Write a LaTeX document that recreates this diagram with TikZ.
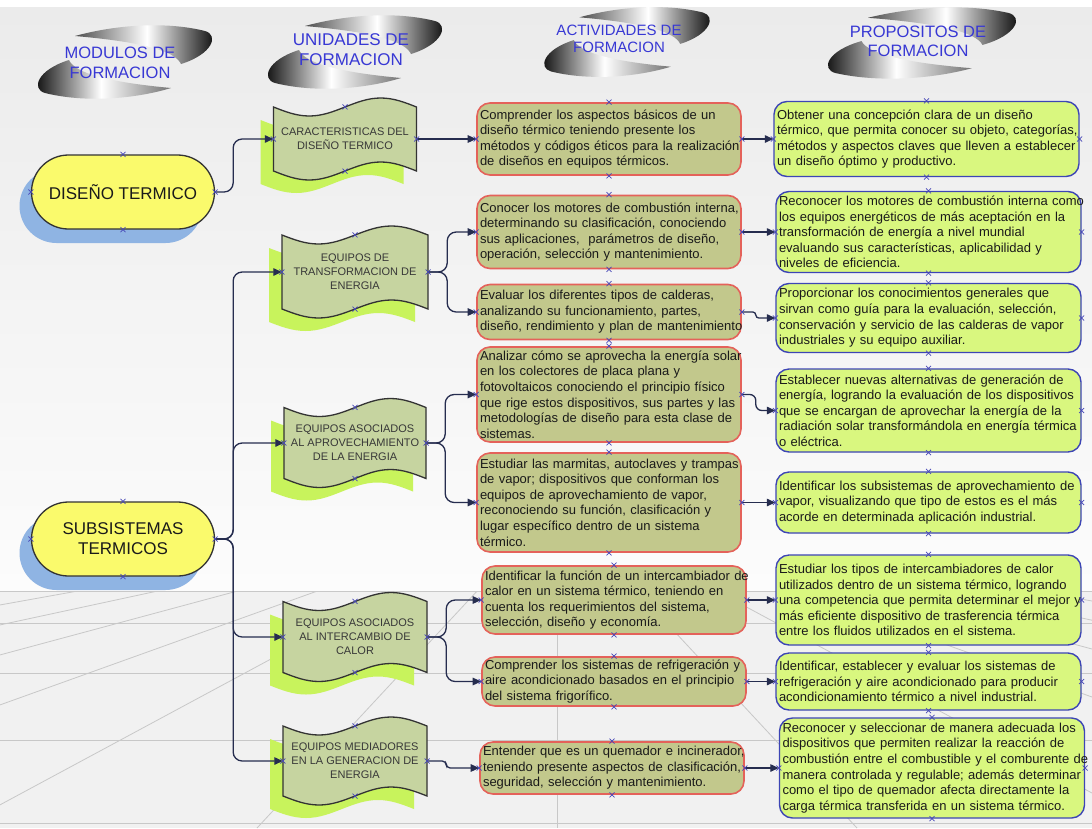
\documentclass[tikz,border=0pt]{standalone}
\usepackage{fontspec}
\setmainfont{Liberation Sans}
\usetikzlibrary{arrows.meta,shadows}

\definecolor{hdrblue}{HTML}{3838D4}
\definecolor{wallTop}{HTML}{EBEBEB}
\definecolor{wallBot}{HTML}{FCFCFC}
\definecolor{floorc}{HTML}{F1F1F1}
\definecolor{floorline}{HTML}{C8C8C8}
\definecolor{myellow}{HTML}{FAFA6C}
\definecolor{mshadowc}{HTML}{8FB4E3}
\definecolor{darkline}{HTML}{333333}
\definecolor{ufillc}{HTML}{C6D4A0}
\definecolor{ushadowc}{HTML}{C8F35C}
\definecolor{afillc}{HTML}{C2C88C}
\definecolor{aline}{HTML}{E4625A}
\definecolor{pfillc}{HTML}{D9F77F}
\definecolor{pline}{HTML}{3D45B5}
\definecolor{connc}{HTML}{262D4F}
\definecolor{xmkc}{HTML}{4848B8}
\definecolor{textdark}{HTML}{1A1A1A}
\definecolor{utextc}{HTML}{383838}

% wavy "tape" unit: name, centre x, centre y, half width, half height, label
\newcommand\unitbox[6]{%
  \begin{scope}[shift={(#2-13,#3+13)}]
    \fill[ushadowc] (-#4,-#5) sin ({-#4/2},{-#5+9}) cos (0,-#5) sin ({#4/2},{-#5-9}) cos (#4,-#5)
      -- (#4,#5) sin ({#4/2},{#5-9}) cos (0,#5) sin ({-#4/2},{#5+9}) cos (-#4,#5) -- cycle;
  \end{scope}
  \begin{scope}[shift={(#2,#3)}]
    \filldraw[fill=ufillc, draw=darkline, line width=1.3pt]
      (-#4,-#5) sin ({-#4/2},{-#5+9}) cos (0,-#5) sin ({#4/2},{-#5-9}) cos (#4,-#5)
      -- (#4,#5) sin ({#4/2},{#5-9}) cos (0,#5) sin ({-#4/2},{#5+9}) cos (-#4,#5) -- cycle;
  \end{scope}
  \node[utext, minimum width={2*#4}, minimum height={2*#5}] (#1) at (#2,#3) {#6};%
}

\begin{document}
\begin{tikzpicture}[x=1pt,y=-1pt,
  hdr/.style={text=hdrblue, align=center, inner sep=0pt},
  module/.style={draw=darkline, fill=myellow, line width=1.3pt, rounded corners=37pt,
    minimum width=183pt, minimum height=74pt, inner sep=0pt, align=center,
    font=\fontsize{17}{20}\selectfont, text=textdark,
    drop shadow={shadow xshift=-12pt, shadow yshift=-14pt, fill=mshadowc, opacity=1}},
  utext/.style={inner sep=0pt, align=center, text=utextc, font=\fontsize{11}{14}\selectfont},
  act/.style={draw=aline, fill=afillc, line width=1.6pt, rounded corners=13pt,
    text width=258pt, inner xsep=3pt, inner ysep=0pt, align=left, text=textdark,
    font=\fontsize{13}{15.6}\selectfont, minimum height=#1},
  purp/.style={draw=pline, fill=pfillc, line width=1.4pt, rounded corners=13pt,
    text width=299pt, inner xsep=3pt, inner ysep=0pt, align=left, text=textdark,
    font=\fontsize{13}{15.6}\selectfont, minimum height=#1},
  conn/.style={draw=connc, line width=1.3pt, rounded corners=9pt,
    -{Triangle[length=8.5pt,width=7.5pt]}},
  swoosh/.pic={
    \shade[left color=black!70, right color=black, middle color=white]
      (-50,-26) .. controls (-10,-37) and (40,-41) .. (80,-31)
      .. controls (94,-27) and (88,-8) .. (56,2)
      .. controls (50,-11) and (18,-20) .. (-50,-26) -- cycle;
    \shade[left color=black, right color=black!55, middle color=white]
      (46,26) .. controls (10,37) and (-40,41) .. (-80,31)
      .. controls (-94,27) and (-88,8) .. (-56,-2)
      .. controls (-50,11) and (-18,20) .. (46,26) -- cycle;
  },
  xmk/.pic={\draw[xmkc, line width=0.7pt] (-2.5,-2.5) -- (2.5,2.5) (-2.5,2.5) -- (2.5,-2.5);}
]
\useasboundingbox (0,0) rectangle (1092,828);

% backdrop: wall and perspective floor
\fill[white] (0,0) rectangle (1092,828);
\shade[top color=wallTop, bottom color=wallBot] (0,7) rectangle (1092,591);
\fill[floorc] (0,591) rectangle (1092,828);
\begin{scope}
  \clip (0,591) rectangle (1092,828);
  \foreach \k in {-7,...,7} \draw[floorline, line width=0.8pt] (557,505) -- ({557+300*\k},828);
  \foreach \yy in {591,623,673,740,823} \draw[floorline, line width=1pt] (0,\yy) -- (1092,\yy);
\end{scope}

% column headings
\pic at (125,62) {swoosh};
\pic at (355,52) {swoosh};
\pic[xscale=0.95, yscale=0.95] at (627,42) {swoosh};
\pic[xscale=1.08, yscale=0.97] at (922,43) {swoosh};
\node[hdr, font=\fontsize{16.5}{20}\selectfont] (h1) at (120,63) {MODULOS DE\\FORMACION};
\node[hdr, font=\fontsize{17}{20}\selectfont] (h2) at (351,50) {UNIDADES DE\\FORMACION};
\node[hdr, font=\fontsize{15}{17}\selectfont] (h3) at (619,39) {ACTIVIDADES DE\\FORMACION};
\node[hdr, font=\fontsize{16.5}{19}\selectfont] (h4) at (918,41) {PROPOSITOS DE\\FORMACION};

% modules
\node[module] (m1) at (123,192) {DISEÑO TERMICO};
\node[module] (m2) at (123,539) {SUBSISTEMAS\\TERMICOS};

% units
\unitbox{u1}{345}{139}{71.5}{32}{CARACTERISTICAS DEL\\DISEÑO TERMICO}
\unitbox{u2}{355}{272}{73}{37}{EQUIPOS DE\\TRANSFORMACION DE\\ENERGIA}
\unitbox{u3}{355}{443}{71}{35.5}{EQUIPOS ASOCIADOS\\AL APROVECHAMIENTO\\DE LA ENERGIA}
\unitbox{u4}{355}{637}{72}{35.5}{EQUIPOS ASOCIADOS\\AL INTERCAMBIO DE\\CALOR}
\unitbox{u5}{355}{761}{72}{35}{EQUIPOS MEDIADORES\\EN LA GENERACION DE\\ENERGIA}

% activities
\node[act=72pt] (a1) at (609,139) {\mbox{Comprender los aspectos básicos de un}\\\mbox{diseño térmico teniendo presente los}\\\mbox{métodos y códigos éticos para la realización}\\\mbox{de diseños en equipos térmicos.}};
\node[act=73pt] (a2) at (609,232) {\mbox{Conocer los motores de combustión interna,}\\\mbox{determinando su clasificación, conociendo}\\\mbox{sus aplicaciones,\ \ parámetros de diseño,}\\\mbox{operación, selección y mantenimiento.}};
\node[act=55pt] (a3) at (609,312) {\mbox{Evaluar los diferentes tipos de calderas,}\\\mbox{analizando su funcionamiento, partes,}\\\mbox{diseño, rendimiento y plan de mantenimiento}};
\node[act=95pt] (a4) at (609,394.5) {\mbox{Analizar cómo se aprovecha la energía solar}\\\mbox{en los colectores de placa plana y}\\\mbox{fotovoltaicos conociendo el principio físico}\\\mbox{que rige estos dispositivos, sus partes y las}\\\mbox{metodologías de diseño para esta clase de}\\\mbox{sistemas.}};
\node[act=99pt] (a5) at (609,502.5) {\mbox{Estudiar las marmitas, autoclaves y trampas}\\\mbox{de vapor; dispositivos que conforman los}\\\mbox{equipos de aprovechamiento de vapor,}\\\mbox{reconociendo su función, clasificación y}\\\mbox{lugar específico dentro de un sistema}\\\mbox{térmico.}};
\node[act=68pt] (a6) at (614,600) {\mbox{Identificar la función de un intercambiador de}\\\mbox{calor en un sistema térmico, teniendo en}\\\mbox{cuenta los requerimientos del sistema,}\\\mbox{selección, diseño y economía.}};
\node[act=49pt] (a7) at (614,681.5) {\mbox{Comprender los sistemas de refrigeración y}\\\mbox{aire acondicionado basados en el principio}\\\mbox{del sistema frigorífico.}};
\node[act=52pt] (a8) at (612,768) {\mbox{Entender que es un quemador e incinerador,}\\\mbox{teniendo presente aspectos de clasificación,}\\\mbox{seguridad, selección y mantenimiento.}};

% purposes
\node[purp=75pt] (p1) at (926.5,139) {\mbox{Obtener una concepción clara de un diseño}\\\mbox{térmico, que permita conocer su objeto, categorías,}\\\mbox{métodos y aspectos claves que lleven a establecer}\\\mbox{un diseño óptimo y productivo.}};
\node[purp=81pt] (p2) at (928.5,232) {\mbox{Reconocer los motores de combustión interna como}\\\mbox{los equipos energéticos de más aceptación en la}\\\mbox{transformación de energía a nivel mundial}\\\mbox{evaluando sus características, aplicabilidad y}\\\mbox{niveles de eficiencia.}};
\node[purp=69pt] (p3) at (928.5,318) {\mbox{Proporcionar los conocimientos generales que}\\\mbox{sirvan como guía para la evaluación, selección,}\\\mbox{conservación y servicio de las calderas de vapor}\\\mbox{industriales y su equipo auxiliar.}};
\node[purp=83pt] (p4) at (928.5,410.5) {\mbox{Establecer nuevas alternativas de generación de}\\\mbox{energía, logrando la evaluación de los dispositivos}\\\mbox{que se encargan de aprovechar la energía de la}\\\mbox{radiación solar transformándola en energía térmica}\\\mbox{o eléctrica.}};
\node[purp=61pt] (p5) at (928.5,502.5) {\mbox{Identificar los subsistemas de aprovechamiento de}\\\mbox{vapor, visualizando que tipo de estos es el más}\\\mbox{acorde en determinada aplicación industrial.}};
\node[purp=90pt] (p6) at (928.5,600) {\mbox{Estudiar los tipos de intercambiadores de calor}\\\mbox{utilizados dentro de un sistema térmico, logrando}\\\mbox{una competencia que permita determinar el mejor y}\\\mbox{más eficiente dispositivo de trasferencia térmica}\\\mbox{entre los fluidos utilizados en el sistema.}};
\node[purp=57pt] (p7) at (928.5,681.5) {\mbox{Identificar, establecer y evaluar los sistemas de}\\\mbox{refrigeración y aire acondicionado para producir}\\\mbox{acondicionamiento térmico a nivel industrial.}};
\node[purp=100pt] (p8) at (932,768) {\mbox{Reconocer y seleccionar de manera adecuada los}\\\mbox{dispositivos que permiten realizar la reacción de}\\\mbox{combustión entre el combustible y el comburente de}\\\mbox{manera controlada y regulable; además determinar}\\\mbox{como el tipo de quemador afecta directamente la}\\\mbox{carga térmica transferida en un sistema térmico.}};

% connectors: modules to units
\draw[conn] (m1.east) -- ([xshift=18pt]m1.east) |- (u1.west);
\foreach \u in {u2,u3,u4,u5} \draw[conn] (m2.east) -- ([xshift=18pt]m2.east) |- (\u.west);

% connectors: units to activities
\draw[conn] (u1.east) -- (a1.west);
\foreach \u/\a in {u2/a2,u2/a3,u3/a4,u3/a5,u4/a6,u4/a7}
  \draw[conn] (\u.east) -- ([xshift=19pt]\u.east) |- (\a.west);
\draw[conn, rounded corners=4pt] (u5.east) -- ([xshift=19pt]u5.east) |- (a8.west);

% connectors: activities to purposes
\foreach \a/\p in {a1/p1,a2/p2,a5/p5,a6/p6,a7/p7,a8/p8} \draw[conn] (\a.east) -- (\p.west);
\draw[conn, rounded corners=3pt] (a3.east) -- ([xshift=14pt]a3.east) |- (p3.west);
\draw[conn, rounded corners=6pt] (a4.east) -- ([xshift=14pt]a4.east) |- (p4.west);

% connection point markers
\foreach \n in {m1,m2,u1,u2,u3,u4,u5,a1,a2,a3,a4,a5,a6,a7,a8,p1,p2,p3,p4,p5,p6,p7,p8}
  \foreach \s in {north,south,east,west} \pic at (\n.\s) {xmk};
\end{tikzpicture}
\end{document}
